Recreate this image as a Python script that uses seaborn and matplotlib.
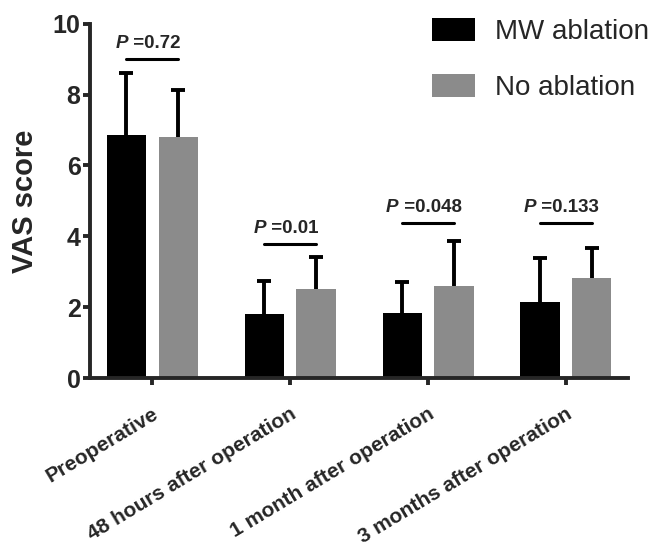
import pandas as pd
import numpy as np
import matplotlib
matplotlib.use("Agg")
import matplotlib.pyplot as plt
import seaborn as sns

# Données
timepoints = ["Preoperative", "48 hours after operation",
              "1 month after operation", "3 months after operation"]
groups = ["MW ablation", "No ablation"]
mw_mean = [6.85, 1.82, 1.85, 2.15]
mw_sd = [1.75, 0.93, 0.85, 1.23]
no_mean = [6.80, 2.52, 2.60, 2.82]
no_sd = [1.32, 0.91, 1.28, 0.85]
p_labels = ["0.72", "0.01", "0.048", "0.133"]
p_line_y = [9.0, 3.78, 4.38, 4.38]

sns.set_style("ticks")
plt.rcParams['font.family'] = ['Liberation Sans', 'DejaVu Sans']

df = pd.DataFrame({
    "time": timepoints * 2,
    "group": [groups[0]] * 4 + [groups[1]] * 4,
    "vas": mw_mean + no_mean,
    "sd": mw_sd + no_sd,
})

fig = plt.figure(figsize=(6.59, 5.52), dpi=100)
ax = fig.add_axes([0.137, 0.315, 0.816, 0.642])

sns.barplot(data=df, x="time", y="vas", hue="group", order=timepoints,
            hue_order=groups, palette=["#000000", "#8b8b8b"],
            width=0.75, gap=0.24, errorbar=None, saturation=1,
            linewidth=0, ax=ax)

# Barres d'erreur (vers le haut seulement, un seul chapeau)
for cont, grp in zip(ax.containers, groups):
    sub = df[df["group"] == grp].set_index("time").loc[timepoints]
    xs = [p.get_x() + p.get_width() / 2 for p in cont.patches]
    tops = sub["vas"] + sub["sd"]
    ax.vlines(xs, sub["vas"], tops, color="black", lw=2.8, zorder=1)
    ax.plot(xs, tops, marker="_", ms=10, mew=2.8, ls="none",
            color="black", zorder=1)

# Annotations P
fig.canvas.draw()
renderer = fig.canvas.get_renderer()
black_bars = ax.containers[0].patches
gray_bars = ax.containers[1].patches
for b, g, lab, ly in zip(black_bars, gray_bars, p_labels, p_line_y):
    x0 = b.get_x() + b.get_width() / 2
    x1 = g.get_x() + g.get_width() / 2
    ax.plot([x0, x1], [ly, ly], color="black", lw=2.2, clip_on=False)
    t1 = ax.text(x0, ly + 0.2, "P", fontsize=13.5, fontweight="bold",
                 style="italic", ha="left", va="bottom")
    t2 = ax.annotate(" =" + lab, xy=(1, 0), xycoords=t1, fontsize=13.5,
                     fontweight="bold", ha="left", va="bottom")
    fig.canvas.draw()
    w = t1.get_window_extent(renderer).width + t2.get_window_extent(renderer).width
    cx = ax.transData.transform(((x0 + x1) / 2, 0))[0]
    newx = ax.transData.inverted().transform((cx - w / 2 - 3, 0))[0]
    t1.set_x(newx)

ax.set_ylim(0, 10)
ax.set_xlim(-0.45, 3.45)
ax.set_yticks([0, 2, 4, 6, 8, 10])
ax.set_ylabel("VAS score", fontsize=21, fontweight="bold", labelpad=10)
ax.set_xlabel("")
for lbl in ax.get_yticklabels():
    lbl.set_fontsize(18)
    lbl.set_fontweight("bold")
ax.set_xticks(range(len(timepoints)))
ax.set_xticklabels(timepoints, rotation=31, ha="right", rotation_mode="anchor",
                   fontsize=15, fontweight="bold")
ax.tick_params(axis="x", which="major", length=5, width=2.8, pad=14)
ax.tick_params(axis="y", which="major", length=5, width=2.8, pad=2)
for s in ["left", "bottom"]:
    ax.spines[s].set_linewidth(2.8)
sns.despine(ax=ax)

ax.legend(loc="upper left", bbox_to_anchor=(0.656, 0.968),
          bbox_transform=fig.transFigure, frameon=False, fontsize=20,
          handlelength=1.55, handleheight=0.9, labelspacing=1.05,
          handletextpad=0.7, borderpad=0, borderaxespad=0)

fig.savefig("out.png", dpi=100)
